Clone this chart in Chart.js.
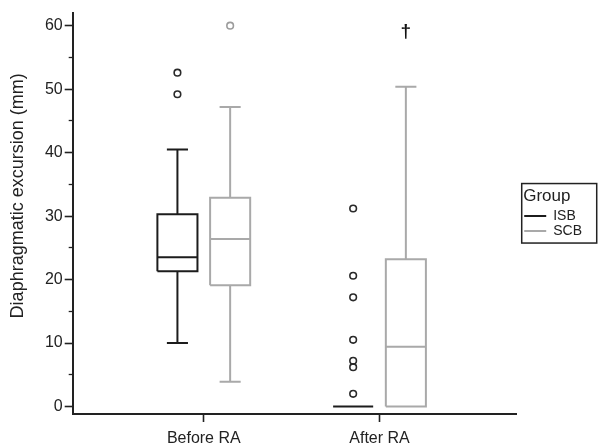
<!DOCTYPE html>
<html>
<head>
<meta charset="utf-8">
<script src="https://cdn.jsdelivr.net/npm/chart.js@4/dist/chart.umd.min.js"></script>
<style>
html,body{margin:0;padding:0;background:#fff;}
canvas{display:block;}
</style>
</head>
<body>
<canvas id="c" width="598" height="445"></canvas>
<script>
// ---- data ----
const categories = ['Before RA', 'After RA'];
const groups = ['ISB', 'SCB'];
const isbMin = [10.0, 0];
const isbQ1 = [21.3, 0];
const isbMedian = [23.5, 0];
const isbQ3 = [30.3, 0];
const isbMax = [40.5, 0];
const isbOutliers = [[52.6, 49.2], [31.2, 20.6, 17.2, 10.5, 7.2, 6.2, 2.0]];
const scbMin = [3.9, 0];
const scbQ1 = [19.1, 0];
const scbMedian = [26.4, 9.4];
const scbQ3 = [32.9, 23.2];
const scbMax = [47.2, 50.4];
const scbOutliers = [[60.0], []];
const significanceMarks = ['', '\u2020'];
const significanceY = [null, 59];
const yMajorTicks = [0, 10, 20, 30, 40, 50, 60];
const yMinorTicks = [5, 15, 25, 35, 45, 55];

// ---- styling ----
const FONT = "'Liberation Sans', Arial, Helvetica, sans-serif";
const INK = '#222222';
const groupColors = ['#1c1c1c', '#a9a9a9'];
const outlierColors = ['#2a2a2a', '#9c9c9c'];
const OFFSET = 0.15, HALF_BOX = 0.114, HALF_CAP = 0.06;

Chart.defaults.font.family = FONT;
Chart.defaults.color = INK;

function boxPath(mins, q1s, meds, q3s, maxs, side) {
  const pts = [];
  categories.forEach((c, i) => {
    const cx = i + 1 + side * OFFSET;
    const l = cx - HALF_BOX, r = cx + HALF_BOX;
    const gap = () => pts.push({x: cx, y: null});
    pts.push({x: l, y: q1s[i]}, {x: r, y: q1s[i]}, {x: r, y: q3s[i]}, {x: l, y: q3s[i]}, {x: l, y: q1s[i]});
    gap();
    pts.push({x: l, y: meds[i]}, {x: r, y: meds[i]});
    gap();
    if (maxs[i] > q3s[i]) {
      pts.push({x: cx, y: q3s[i]}, {x: cx, y: maxs[i]}); gap();
      pts.push({x: cx - HALF_CAP, y: maxs[i]}, {x: cx + HALF_CAP, y: maxs[i]}); gap();
    }
    if (mins[i] < q1s[i]) {
      pts.push({x: cx, y: q1s[i]}, {x: cx, y: mins[i]}); gap();
      pts.push({x: cx - HALF_CAP, y: mins[i]}, {x: cx + HALF_CAP, y: mins[i]}); gap();
    }
  });
  return pts;
}
function outlierPoints(outs, side) {
  const pts = [];
  outs.forEach((list, i) => list.forEach(v => pts.push({x: i + 1 + side * OFFSET, y: v})));
  return pts;
}

const boxDataset = (label, data, color) => ({
  label, data, type: 'scatter', showLine: true, spanGaps: false,
  borderColor: color, borderWidth: 2, pointRadius: 0, pointHoverRadius: 0,
  tension: 0, borderCapStyle: 'butt', borderJoinStyle: 'miter', fill: false
});
const outlierDataset = (label, data, color) => ({
  label, data, type: 'scatter', showLine: false,
  pointStyle: 'circle', pointRadius: 3.3, pointBorderWidth: 1.6,
  pointBorderColor: color, pointBackgroundColor: 'rgba(255,255,255,0)', borderColor: color
});

const legendPlugin = {
  id: 'legendTweak',
  afterLayout(chart) {
    const lg = chart.legend;
    const w = lg.width;
    lg.left = chart.chartArea.right + 7;
    lg.right = lg.left + w;
  },
  afterDraw(chart) {
    const lg = chart.legend;
    const hb = lg.legendHitBoxes;
    if (!hb || !hb.length) return;
    const ctx = chart.ctx;
    const last = hb[hb.length - 1];
    const top = hb[0].top - 25.5;
    const bottom = last.top + last.height + 5;
    ctx.save();
    ctx.strokeStyle = INK;
    ctx.lineWidth = 1.5;
    ctx.strokeRect(lg.left - 1.5, top, 75, bottom - top);
    ctx.restore();
  }
};
const significancePlugin = {
  id: 'significance',
  afterDatasetsDraw(chart) {
    const ctx = chart.ctx, xs = chart.scales.x, ys = chart.scales.y;
    ctx.save();
    ctx.fillStyle = '#111';
    ctx.font = 'bold 19px ' + FONT;
    ctx.textAlign = 'center';
    ctx.textBaseline = 'middle';
    significanceMarks.forEach((m, i) => {
      if (!m) return;
      ctx.fillText(m, xs.getPixelForValue(i + 1 + OFFSET), ys.getPixelForValue(significanceY[i]));
    });
    ctx.restore();
  }
};

new Chart(document.getElementById('c'), {
  type: 'scatter',
  data: {
    datasets: [
      boxDataset('ISB', boxPath(isbMin, isbQ1, isbMedian, isbQ3, isbMax, -1), groupColors[0]),
      boxDataset('SCB', boxPath(scbMin, scbQ1, scbMedian, scbQ3, scbMax, 1), groupColors[1]),
      outlierDataset('ISB outliers', outlierPoints(isbOutliers, -1), outlierColors[0]),
      outlierDataset('SCB outliers', outlierPoints(scbOutliers, 1), outlierColors[1])
    ]
  },
  options: {
    responsive: false,
    animation: false,
    events: [],
    layout: {padding: {top: 12.7, right: 13, bottom: 0, left: 0}},
    plugins: {
      tooltip: {enabled: false},
      legend: {
        display: true,
        position: 'right',
        align: 'center',
        fullSize: false,
        title: {display: true, text: 'Group', position: 'start', color: INK, font: {size: 17}},
        labels: {
          boxWidth: 22, boxHeight: 2, padding: 1, color: INK,
          font: {size: 14},
          generateLabels: () => groups.map((g, i) => ({
            text: g, fillStyle: groupColors[i], strokeStyle: groupColors[i],
            lineWidth: 0, hidden: false, datasetIndex: i, fontColor: INK
          }))
        }
      }
    },
    scales: {
      x: {
        type: 'linear', position: 'bottom', min: 0.254, max: 2.778,
        afterBuildTicks: s => { s.ticks = categories.map((c, i) => ({value: i + 1})); },
        afterFit: s => { s.height = 31; },
        ticks: {
          autoSkip: false, maxRotation: 0, padding: 7, color: INK, font: {size: 16},
          callback: (v, i) => categories[i]
        },
        grid: {drawOnChartArea: false, drawTicks: true, tickLength: 8, tickColor: INK, tickWidth: 1.6},
        border: {display: true, color: INK, width: 2}
      },
      y: {
        type: 'linear', position: 'left', weight: 1, min: -1.18, max: 62.05,
        afterBuildTicks: s => { s.ticks = yMajorTicks.map(v => ({value: v})); },
        afterFit: s => { s.width = 72.7; },
        ticks: {padding: 2, color: INK, font: {size: 16}},
        grid: {drawOnChartArea: false, drawTicks: true, tickLength: 8, tickColor: INK, tickWidth: 1.6},
        border: {display: true, color: INK, width: 2},
        title: {
          display: true,
          text: '\u00A0\u00A0\u00A0\u00A0\u00A0\u00A0\u00A0Diaphragmatic excursion (mm)',
          color: INK, font: {size: 18}, padding: {top: 7, bottom: 0}
        }
      },
      yMinor: {
        type: 'linear', axis: 'y', position: 'left', weight: 0, min: -1.18, max: 62.05,
        afterBuildTicks: s => { s.ticks = yMinorTicks.map(v => ({value: v})); },
        afterFit: s => { s.width = 0; },
        ticks: {display: false},
        grid: {drawOnChartArea: false, drawTicks: true, tickLength: 4, tickColor: INK, tickWidth: 1.3},
        border: {display: false}
      }
    }
  },
  plugins: [legendPlugin, significancePlugin]
});
</script>
</body>
</html>
